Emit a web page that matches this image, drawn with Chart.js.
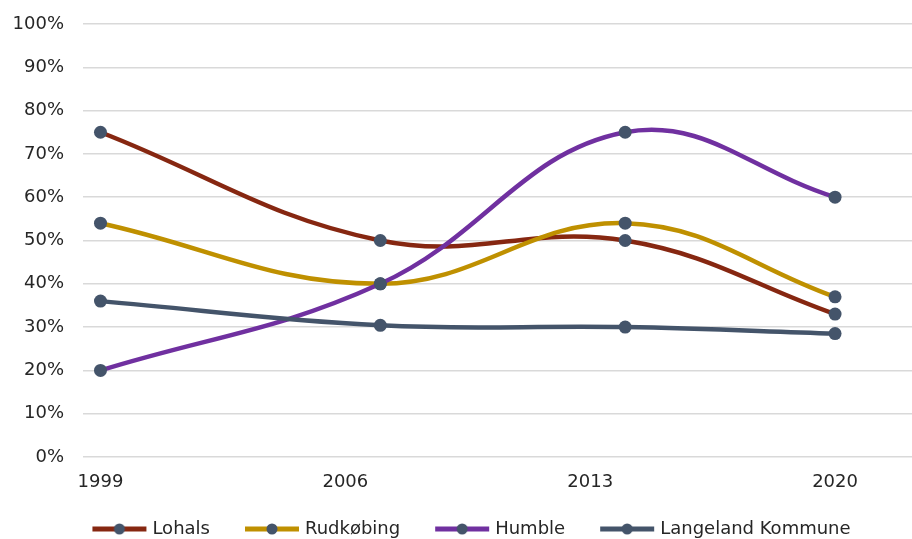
<!DOCTYPE html>
<html>
<head>
<meta charset="utf-8">
<script src="https://cdn.jsdelivr.net/npm/chart.js@4/dist/chart.umd.min.js"></script>
<style>
  html, body { margin: 0; padding: 0; background: #fff; }
  #wrap { width: 912px; height: 539px; }
</style>
</head>
<body>
<div id="wrap"><canvas id="c" width="912" height="539"></canvas></div>
<script>
// Survey years and shares (percent) per area
const years = [1999, 2007, 2014, 2020];
const tickYears = [1999, 2006, 2013, 2020];
const seriesNames = ['Lohals', 'Rudkøbing', 'Humble', 'Langeland Kommune'];
const lohals = [75, 50, 50, 33];
const rudkobing = [54, 40, 54, 37];
const humble = [20, 40, 75, 60];
const langeland = [36, 30.4, 30, 28.5];

const lineColors = ['#862711', '#BF9000', '#7030A0', '#44546A'];
const markerColor = '#44546A';
const FONT = '"DejaVu Sans", Verdana, sans-serif';

// Legend swatch: blank lead-in, then a thick line with a marker in the middle
const SW_W = 88, SW_LINE_START = 30, SW_LINE_END = 84;
function swatch(color) {
  const c = document.createElement('canvas');
  c.width = SW_W; c.height = 14;
  const g = c.getContext('2d');
  g.strokeStyle = color; g.lineWidth = 5; g.lineCap = 'butt';
  g.beginPath(); g.moveTo(SW_LINE_START, 7); g.lineTo(SW_LINE_END, 7); g.stroke();
  g.fillStyle = markerColor;
  g.beginPath(); g.arc((SW_LINE_START + SW_LINE_END) / 2, 7, 5.5, 0, Math.PI * 2); g.fill();
  return c;
}

const allValues = [lohals, rudkobing, humble, langeland];
const datasets = allValues.map((vals, i) => ({
  label: seriesNames[i],
  data: years.map((y, j) => ({ x: y, y: vals[j] })),
  borderColor: lineColors[i],
  backgroundColor: lineColors[i],
  borderWidth: 4.5,
  pointRadius: 6.5,
  pointHoverRadius: 6.5,
  pointBackgroundColor: markerColor,
  pointBorderWidth: 0,
  tension: 0.4,
  order: allValues.length - i,
  swatch: swatch(lineColors[i])
}));

new Chart(document.getElementById('c'), {
  type: 'line',
  data: { datasets },
  options: {
    responsive: false,
    animation: false,
    events: [],
    layout: { autoPadding: false, padding: { top: 24, right: 0, left: 8, bottom: -9 } },
    scales: {
      x: {
        type: 'linear',
        min: 1998.5,
        max: 2022.2,
        afterBuildTicks: (s) => { s.ticks = tickYears.map(v => ({ value: v })); },
        afterFit: (s) => { s.height = 51; s.paddingLeft = 0; s.paddingRight = 0; },
        grid: { display: false, drawTicks: false },
        border: { display: false },
        ticks: {
          padding: 15,
          color: '#262626',
          font: { family: FONT, size: 18 },
          callback: (v) => String(v),
          maxRotation: 0,
          autoSkip: false
        }
      },
      y: {
        min: 0,
        max: 100,
        afterFit: (s) => { s.width = 75; s.paddingTop = 0; s.paddingBottom = 0; },
        grid: { color: '#D9D9D9', lineWidth: 1.5, drawTicks: false },
        border: { display: false },
        ticks: {
          stepSize: 10,
          padding: 19,
          color: '#262626',
          font: { family: FONT, size: 18 },
          callback: (v) => v + '%'
        }
      }
    },
    plugins: {
      tooltip: { enabled: false },
      legend: {
        position: 'bottom',
        labels: {
          usePointStyle: true,
          pointStyleWidth: 74,
          padding: 12,
          color: '#262626',
          font: { family: FONT, size: 18 },
          generateLabels: (chart) => chart.data.datasets.map((ds, i) => ({
            text: ds.label,
            pointStyle: ds.swatch,
            fillStyle: ds.borderColor,
            strokeStyle: ds.borderColor,
            lineWidth: 0,
            hidden: false,
            datasetIndex: i,
            fontColor: '#262626'
          }))
        }
      }
    }
  }
});
</script>
</body>
</html>
